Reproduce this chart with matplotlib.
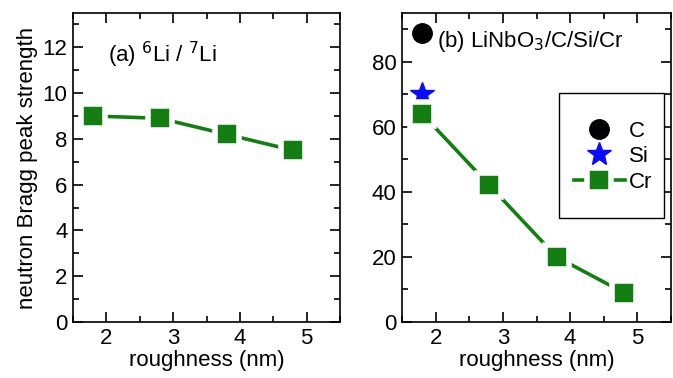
import matplotlib.pyplot as plt
from matplotlib.patches import Rectangle
from matplotlib.ticker import MultipleLocator

plt.rcParams['font.family'] = ['Liberation Sans', 'DejaVu Sans']

roughness = [1.8, 2.8, 3.8, 4.8]
li_strength = [9.0, 8.9, 8.2, 7.5]
cr_strength = [64, 42, 20, 9]
c_roughness = [1.8]
c_strength = [89]
si_roughness = [1.8]
si_strength = [70]

green = '#137f13'
fs = 16

fig = plt.figure(figsize=(6.73, 3.78), dpi=100)
ax1 = fig.add_axes([73/673, 1-322/378, 267/673, 309/378])
ax2 = fig.add_axes([402/673, 1-322/378, 269/673, 309/378])


def style_axis(ax, ymax, ymajor, yminor):
    ax.set_xlim(1.5, 5.5)
    ax.set_ylim(0, ymax)
    ax.xaxis.set_major_locator(MultipleLocator(1))
    ax.xaxis.set_minor_locator(MultipleLocator(0.5))
    ax.yaxis.set_major_locator(MultipleLocator(ymajor))
    ax.yaxis.set_minor_locator(MultipleLocator(yminor))
    ax.tick_params(which='both', direction='in', top=True, right=True,
                   labelsize=fs, width=1.2)
    ax.tick_params(which='major', length=7, pad=4)
    ax.tick_params(which='minor', length=4)
    for s in ax.spines.values():
        s.set_linewidth(1.2)
    ax.set_xlabel('roughness (nm)', fontsize=fs, labelpad=1)


# panel (a)
ax1.plot(roughness, li_strength, '-s', color=green, lw=2.6, ms=17,
         markeredgecolor='white', markeredgewidth=4)
style_axis(ax1, 13.5, 2, 1)
ax1.set_ylabel('neutron Bragg peak strength', fontsize=fs, labelpad=3)
ax1.text(0.13, 0.84, r'(a) $^{6}$Li / $^{7}$Li', transform=ax1.transAxes,
         fontsize=fs)

# panel (b)
ax2.plot(c_roughness, c_strength, 'o', color='black', ms=14, label='C')
ax2.plot(si_roughness, si_strength, '*', color='#0a0aff', ms=18, label='Si')
ax2.plot(roughness, cr_strength, '-s', color=green, lw=2.6, ms=17,
         markeredgecolor='white', markeredgewidth=4, label='Cr')
style_axis(ax2, 95, 20, 10)
ax2.text(0.13, 0.89, r'(b) LiNbO$_3$/C/Si/Cr', transform=ax2.transAxes,
         fontsize=fs)

# legend box is taller than its entries, so draw the frame separately
box = Rectangle((0.584, 0.336), 0.39, 0.404, transform=ax2.transAxes,
                facecolor='white', edgecolor='black', lw=1.0, zorder=4)
ax2.add_patch(box)
leg = ax2.legend(loc='center', bbox_to_anchor=(0.785, 0.535),
                 fontsize=fs, frameon=False, borderpad=0,
                 handlelength=2.3, handletextpad=0.2,
                 labelspacing=0.2, borderaxespad=0)
leg.set_zorder(5)

fig.savefig('out.png', dpi=100)
